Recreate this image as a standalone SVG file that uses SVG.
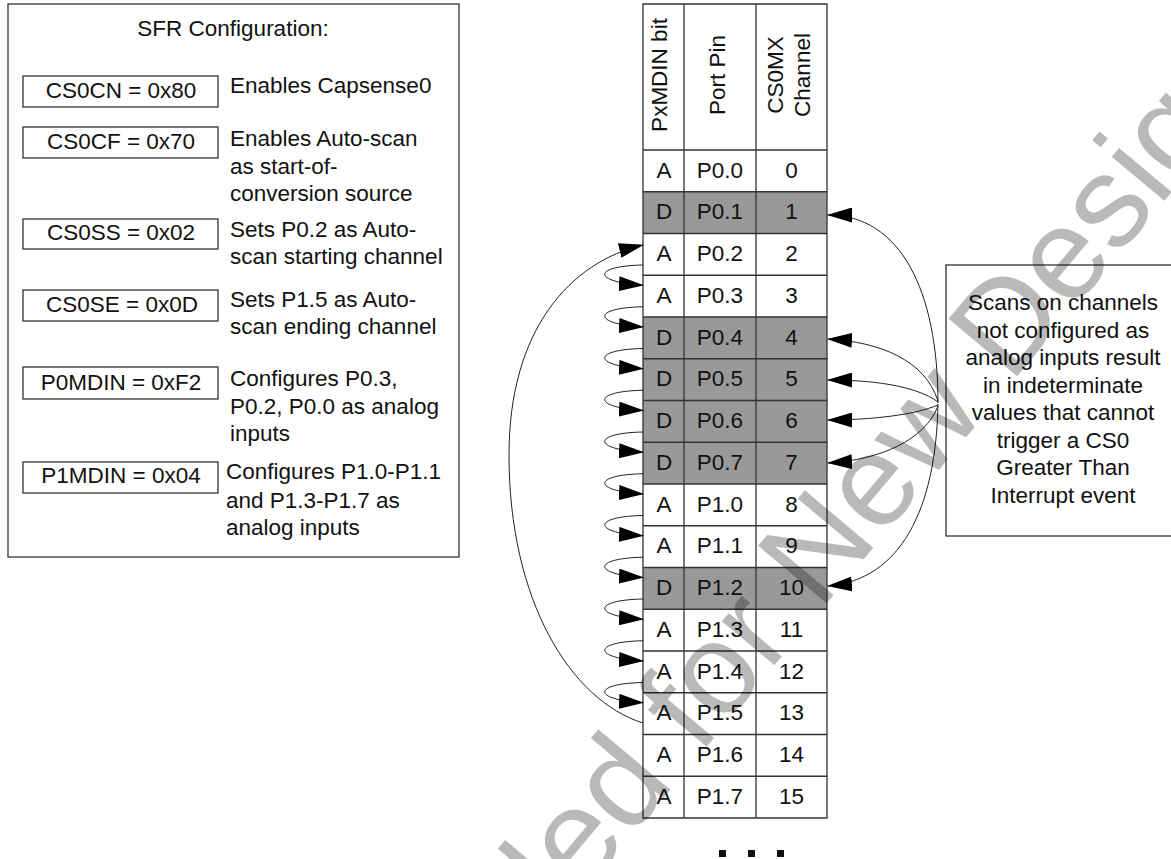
<svg xmlns="http://www.w3.org/2000/svg" width="1171" height="859" viewBox="0 0 1171 859">
<defs>
<style>
text{font-family:"Liberation Sans",Arial,sans-serif;font-size:22.5px;fill:#111}
.c{text-anchor:middle}
.frame{fill:#fff;stroke:#333;stroke-width:1.3}
.reg{fill:#fff;stroke:#333;stroke-width:1.3}
.grid{stroke:#333;stroke-width:1.3;fill:none}
.dg{fill:#999}
.conn path{fill:none;stroke:#222;stroke-width:1}
.wm{font-size:130px;fill:#000;opacity:0.27}
</style>
<marker id="ah" markerUnits="userSpaceOnUse" viewBox="0 0 25 15" markerWidth="25" markerHeight="15" refX="24" refY="7.5" orient="auto">
<path d="M0,0 L25,7.5 L0,15 z" fill="#000"/>
</marker>
</defs>
<rect width="1171" height="859" fill="#fff"/>

<g id="sfr-panel">
<rect class="frame" x="8" y="4" width="451" height="553"/>
<text class="c" x="233" y="35.5">SFR Configuration:</text>
</g>
<g id="cs0cn">
<rect class="reg" x="23" y="76" width="195" height="31"/>
<text class="c" x="121" y="98">CS0CN = 0x80</text>
<text x="230" y="93">Enables Capsense0</text>
</g>
<g id="cs0cf">
<rect class="reg" x="23" y="127" width="195" height="31"/>
<text class="c" x="121" y="149">CS0CF = 0x70</text>
<text x="230" y="146">Enables Auto-scan</text>
<text x="230" y="173.5">as start-of-</text>
<text x="230" y="201">conversion source</text>
</g>
<g id="cs0ss">
<rect class="reg" x="23" y="219" width="195" height="30"/>
<text class="c" x="121" y="240">CS0SS = 0x02</text>
<text x="230" y="237">Sets P0.2 as Auto-</text>
<text x="230" y="264">scan starting channel</text>
</g>
<g id="cs0se">
<rect class="reg" x="23" y="290" width="195" height="31"/>
<text class="c" x="122" y="312">CS0SE = 0x0D</text>
<text x="230" y="307">Sets P1.5 as Auto-</text>
<text x="230" y="334">scan ending channel</text>
</g>
<g id="p0mdin">
<rect class="reg" x="23" y="367" width="195" height="32"/>
<text class="c" x="121" y="390">P0MDIN = 0xF2</text>
<text x="230" y="386">Configures P0.3,</text>
<text x="230" y="413.5">P0.2, P0.0 as analog</text>
<text x="230" y="441">inputs</text>
</g>
<g id="p1mdin">
<rect class="reg" x="23" y="462" width="195" height="31"/>
<text class="c" x="121" y="483">P1MDIN = 0x04</text>
<text x="226" y="479">Configures P1.0-P1.1</text>
<text x="226" y="507.5">and P1.3-P1.7 as</text>
<text x="226" y="535">analog inputs</text>
</g>

<g id="table">
<rect x="643" y="4" width="184" height="814" fill="#fff"/>
<rect class="dg" x="643" y="191.75" width="184" height="41.75"/>
<rect class="dg" x="643" y="317" width="184" height="167"/>
<rect class="dg" x="643" y="567.5" width="184" height="41.75"/>
<text transform="translate(667,75) rotate(-90)" class="c">PxMDIN bit</text>
<text transform="translate(725,75) rotate(-90)" class="c">Port Pin</text>
<text transform="translate(783,75) rotate(-90)" class="c">CS0MX</text>
<text transform="translate(810,75) rotate(-90)" class="c">Channel</text>
<path class="grid" d="M643,4H827V818H643Z M684,4V818 M756,4V818 M643,150H827 M643,191.75H827 M643,233.5H827 M643,275.25H827 M643,317H827 M643,358.75H827 M643,400.5H827 M643,442.25H827 M643,484H827 M643,525.75H827 M643,567.5H827 M643,609.25H827 M643,651H827 M643,692.75H827 M643,734.5H827 M643,776.25H827"/>
<g class="c">
<text x="664" y="177.5">A</text><text x="720" y="177.5">P0.0</text><text x="791.5" y="177.5">0</text>
<text x="664" y="219.25">D</text><text x="720" y="219.25">P0.1</text><text x="791.5" y="219.25">1</text>
<text x="664" y="261">A</text><text x="720" y="261">P0.2</text><text x="791.5" y="261">2</text>
<text x="664" y="302.75">A</text><text x="720" y="302.75">P0.3</text><text x="791.5" y="302.75">3</text>
<text x="664" y="344.5">D</text><text x="720" y="344.5">P0.4</text><text x="791.5" y="344.5">4</text>
<text x="664" y="386.25">D</text><text x="720" y="386.25">P0.5</text><text x="791.5" y="386.25">5</text>
<text x="664" y="428">D</text><text x="720" y="428">P0.6</text><text x="791.5" y="428">6</text>
<text x="664" y="469.75">D</text><text x="720" y="469.75">P0.7</text><text x="791.5" y="469.75">7</text>
<text x="664" y="511.5">A</text><text x="720" y="511.5">P1.0</text><text x="791.5" y="511.5">8</text>
<text x="664" y="553.25">A</text><text x="720" y="553.25">P1.1</text><text x="791.5" y="553.25">9</text>
<text x="664" y="595">D</text><text x="720" y="595">P1.2</text><text x="791.5" y="595">10</text>
<text x="664" y="636.75">A</text><text x="720" y="636.75">P1.3</text><text x="791.5" y="636.75">11</text>
<text x="664" y="678.5">A</text><text x="720" y="678.5">P1.4</text><text x="791.5" y="678.5">12</text>
<text x="664" y="720.25">A</text><text x="720" y="720.25">P1.5</text><text x="791.5" y="720.25">13</text>
<text x="664" y="762">A</text><text x="720" y="762">P1.6</text><text x="791.5" y="762">14</text>
<text x="664" y="803.75">A</text><text x="720" y="803.75">P1.7</text><text x="791.5" y="803.75">15</text>
</g>
</g>

<g id="ellipsis" fill="#111">
<rect x="719" y="850" width="7" height="7"/>
<rect x="748" y="850" width="7" height="7"/>
<rect x="777" y="850" width="7" height="7"/>
</g>

<g id="note">
<rect class="frame" x="946" y="265" width="240" height="271"/>
<g class="c">
<text x="1063" y="310">Scans on channels</text>
<text x="1063" y="337.5">not configured as</text>
<text x="1063" y="365">analog inputs result</text>
<text x="1063" y="392.5">in indeterminate</text>
<text x="1063" y="420">values that cannot</text>
<text x="1063" y="447.5">trigger a CS0</text>
<text x="1063" y="475">Greater Than</text>
<text x="1063" y="502.5">Interrupt event</text>
</g>
</g>

<g id="connectors" class="conn" marker-end="url(#ah)">
<path d="M643,723 C570,700 509,600 509,455 C509,330 570,262 643,245"/>
<path d="M643,265 C592,266 592,282 643,285.25"/>
<path d="M643,306.75 C592,307.75 592,324 643,327"/>
<path d="M643,348.5 C592,349.5 592,365.75 643,368.75"/>
<path d="M643,390.25 C592,391.25 592,407.5 643,410.5"/>
<path d="M643,432 C592,433 592,449.25 643,452.25"/>
<path d="M643,473.75 C592,474.75 592,491 643,494"/>
<path d="M643,515.5 C592,516.5 592,532.75 643,535.75"/>
<path d="M643,557.25 C592,558.25 592,574.5 643,577.5"/>
<path d="M643,599 C592,600 592,616.25 643,619.25"/>
<path d="M643,640.75 C592,641.75 592,658 643,661"/>
<path d="M643,682.5 C592,683.5 592,699.75 643,702.75"/>
<path d="M938,403 C938,290 900,215 828,215"/>
<path d="M938,401 C925,360 880,342 828,339"/>
<path d="M938,402 C915,385 870,380 828,380"/>
<path d="M938,405 C915,415 870,420 828,420"/>
<path d="M938,406 C925,440 880,460 828,463"/>
<path d="M938,404 C936,510 900,580 828,586"/>
</g>

<text class="wm" transform="translate(-44,1641) rotate(-50)">Not Recommended for New Designs</text>
</svg>
